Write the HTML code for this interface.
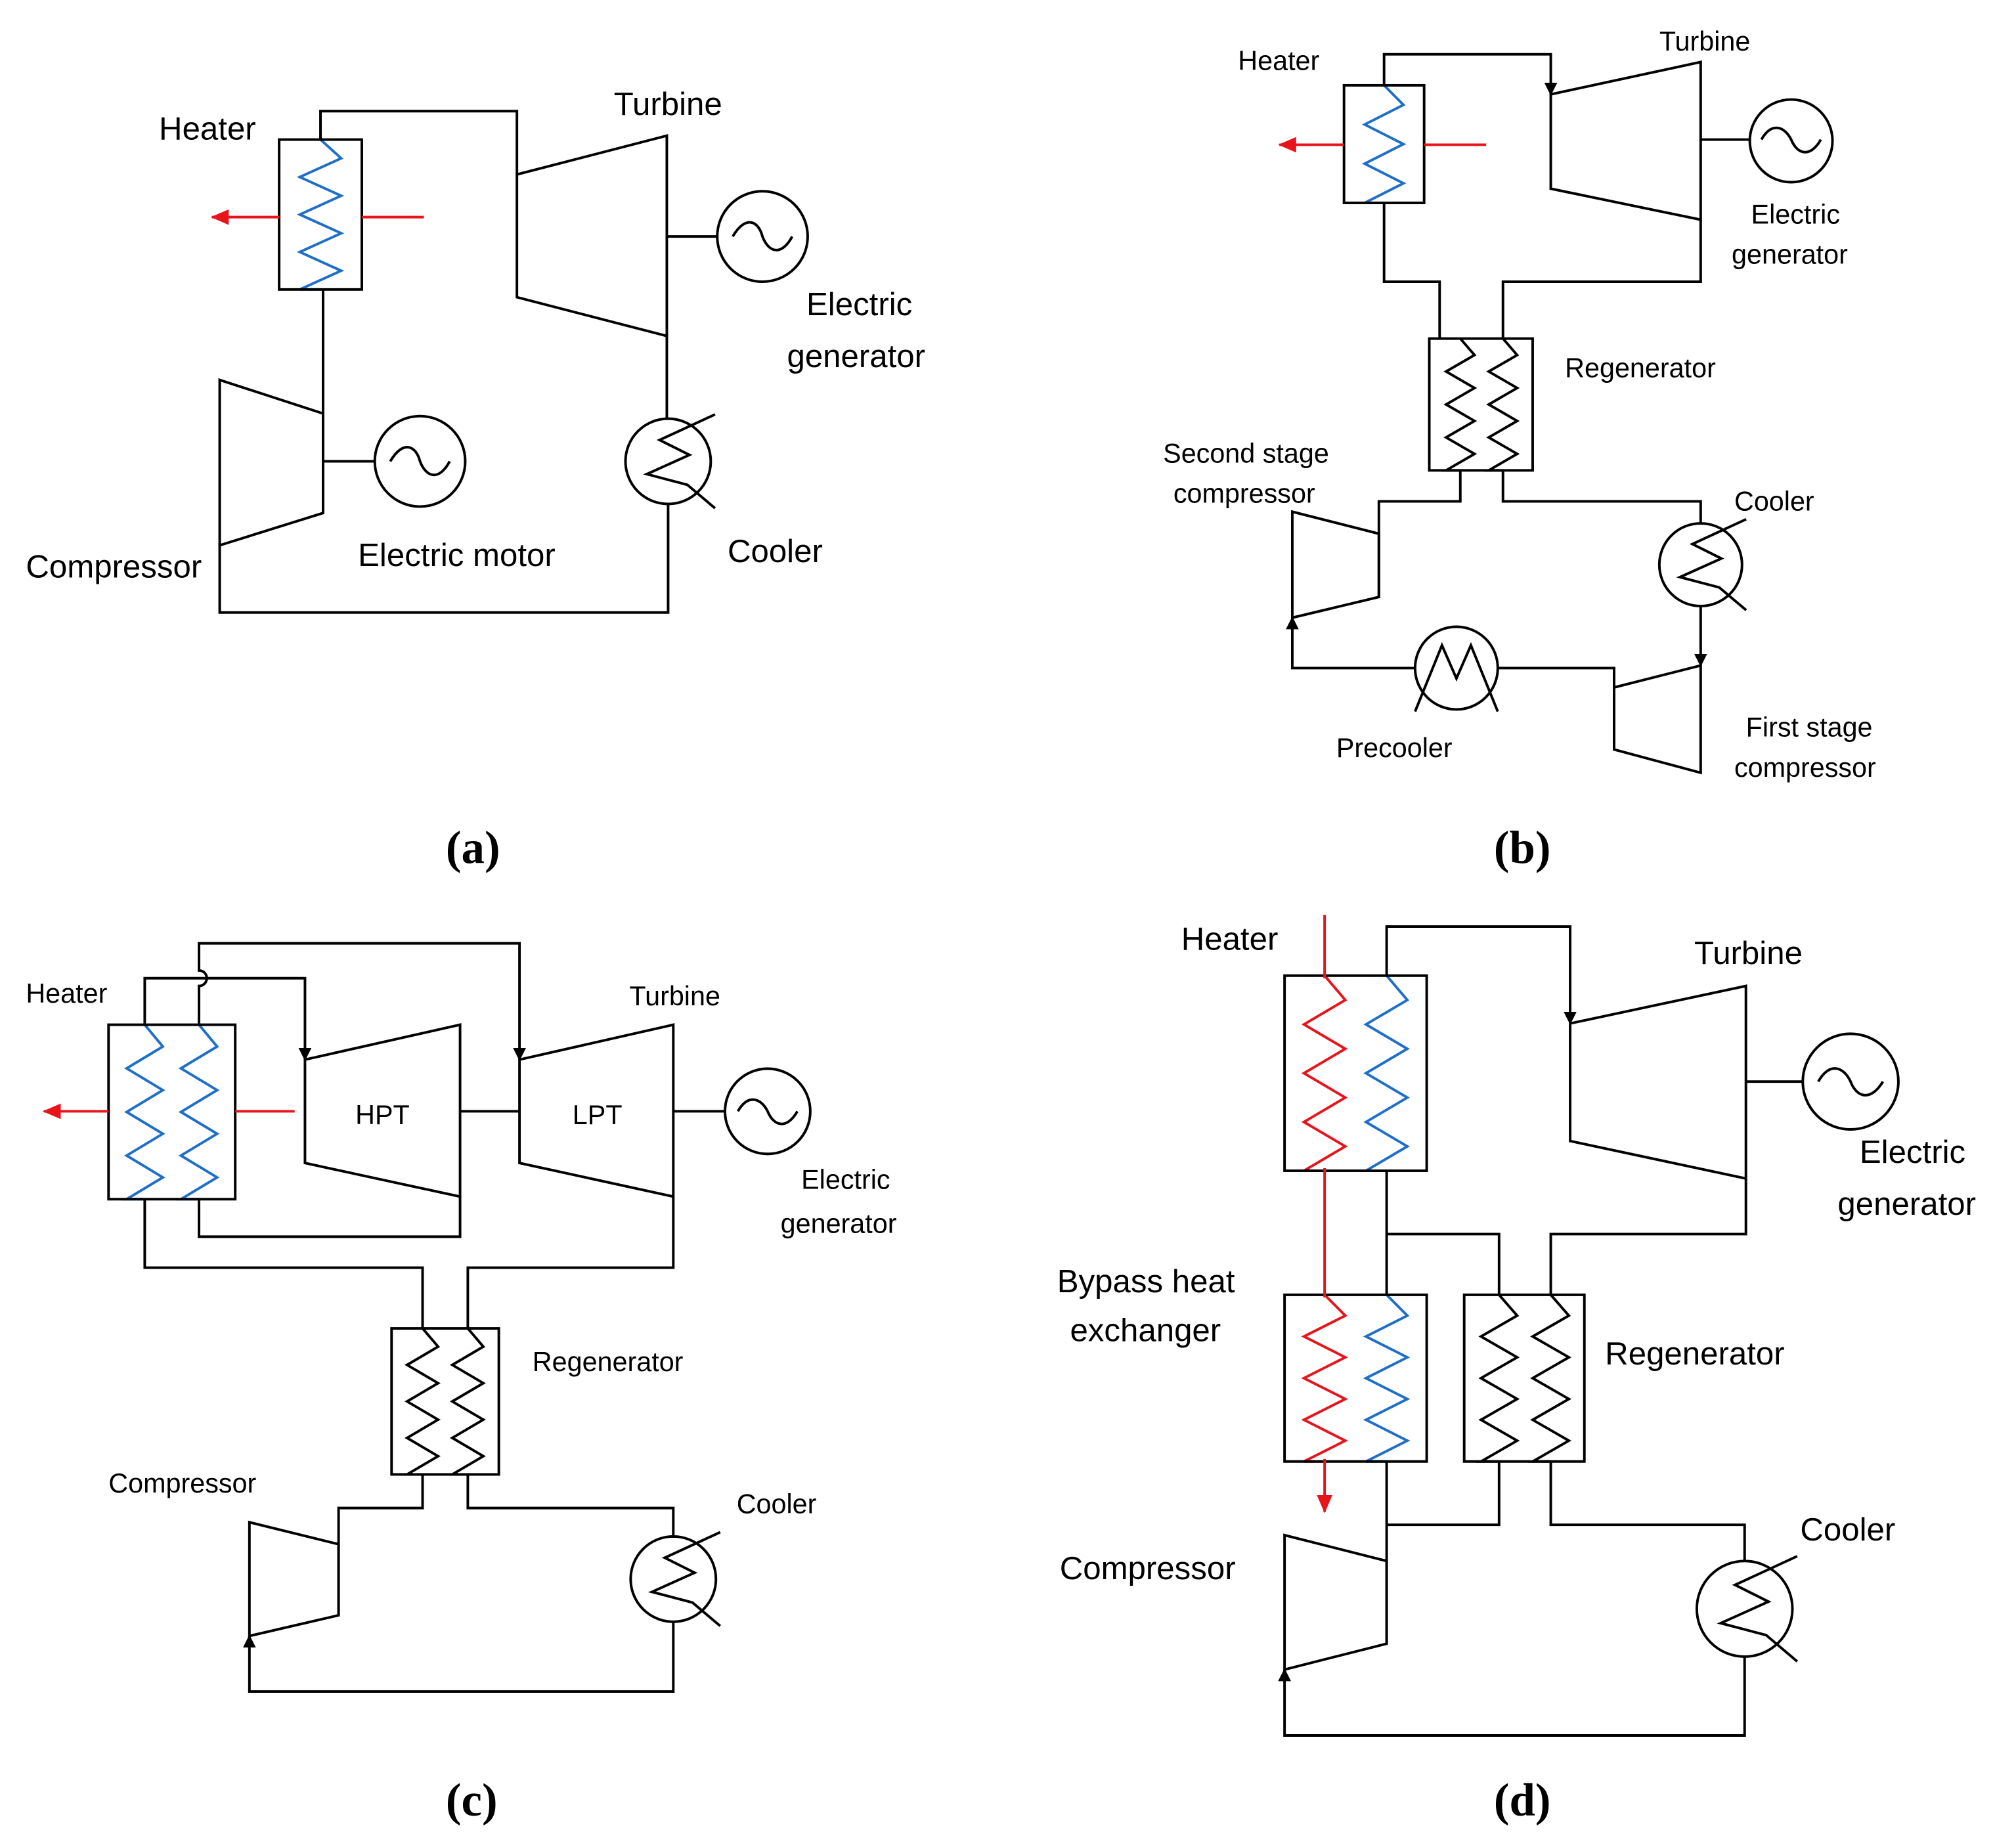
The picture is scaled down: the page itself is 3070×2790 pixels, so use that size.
<!DOCTYPE html>
<html><head><meta charset="utf-8"><style>
html,body{margin:0;padding:0;background:#fff}
svg{display:block}
text{font-family:"Liberation Sans",sans-serif;fill:#000}
.l{fill:none;stroke:#000;stroke-width:2}
.b{fill:none;stroke:#1f6fc8;stroke-width:2}
.r{fill:none;stroke:#e8141b;stroke-width:2}
.cap{font-family:"Liberation Serif",serif;font-size:36px;font-weight:bold}
</style></head><body>
<svg id="s" width="3070" height="2790" viewBox="0 0 1560 1417.7" xmlns="http://www.w3.org/2000/svg">
<defs>
<marker id="ab" markerWidth="10" markerHeight="10" refX="9" refY="5" orient="auto" markerUnits="userSpaceOnUse"><path d="M0,0 L10,5 L0,10 z" fill="#000"/></marker>
<marker id="ar" markerWidth="14" markerHeight="12" refX="13" refY="6" orient="auto" markerUnits="userSpaceOnUse"><path d="M0,0 L14,6 L0,12 z" fill="#e8141b"/></marker>
</defs>
<g id="g"></g>
<!-- (a) -->
<rect class="l" x="216" y="108" width="64" height="116"/>
<path class="r" d="M280,168 H328"/>
<path class="r" d="M216,168 H164" marker-end="url(#ar)"/>
<path class="l" d="M248,108 V86 H400 V135"/>
<polygon class="l" points="400,135 516,105 516,260 400,230"/>
<circle class="l" cx="590" cy="183" r="35"/><path class="l" d="M516,183 H555"/>
<path class="l" d="M516,260 V324"/>
<circle class="l" cx="517" cy="357" r="33"/>
<path class="l" d="M517,390 V474 H170 V420"/>
<polygon class="l" points="170,294 250,320 250,397 170,422"/>
<path class="l" d="M250,224 V320 M250,357 H290"/>
<circle class="l" cx="325" cy="357" r="35"/>
<text x="123" y="108" font-size="25">Heater</text>
<text x="475" y="89" font-size="25">Turbine</text>
<text x="624" y="244" font-size="25">Electric</text>
<text x="609" y="284" font-size="25">generator</text>
<text x="20" y="447" font-size="25">Compressor</text>
<text x="277" y="438" font-size="25">Electric motor</text>
<text x="563" y="435" font-size="25">Cooler</text>
<text class="cap" x="345" y="668">(a)</text>
<!-- (b) -->
<rect class="l" x="1040" y="66" width="62" height="91"/>
<path class="r" d="M1102,112 H1150"/>
<path class="r" d="M1040,112 H990" marker-end="url(#ar)"/>
<path class="l" d="M1071,66 V42 H1200 V73" marker-end="url(#ab)"/>
<polygon class="l" points="1200,73 1316,48 1316,170 1200,146"/>
<circle class="l" cx="1386" cy="109" r="32"/><path class="l" d="M1316,108 H1354"/>
<path class="l" d="M1071,157 V218 H1114 V262 M1316,170 V218 H1163 V262"/>
<rect class="l" x="1106" y="262" width="80" height="102"/>
<path class="l" d="M1130,364 V388 H1067 V462 M1163,364 V388 H1316 V405"/>
<polygon class="l" points="1000,396 1067,413 1067,462 1000,478"/>
<circle class="l" cx="1316" cy="437" r="32"/>
<path class="l" d="M1316,469 V515" marker-end="url(#ab)"/>
<polygon class="l" points="1249,532 1316,515 1316,598 1249,580"/>
<path class="l" d="M1249,532 V517 H1159 M1095,517 H1000 V478" marker-end="url(#ab)"/>
<circle class="l" cx="1127" cy="517" r="32"/>
<text x="958" y="54" font-size="21">Heater</text>
<text x="1284" y="39" font-size="21">Turbine</text>
<text x="1355" y="173" font-size="21">Electric</text>
<text x="1340" y="204" font-size="21">generator</text>
<text x="1211" y="292" font-size="21">Regenerator</text>
<text x="900" y="358" font-size="21">Second stage</text>
<text x="908" y="389" font-size="21">compressor</text>
<text x="1342" y="395" font-size="21">Cooler</text>
<text x="1034" y="586" font-size="21">Precooler</text>
<text x="1351" y="570" font-size="21">First stage</text>
<text x="1342" y="601" font-size="21">compressor</text>
<text class="cap" x="1156" y="668">(b)</text>
<!-- (c) -->
<rect class="l" x="84" y="793" width="98" height="135"/>
<path class="r" d="M182,860 H228"/>
<path class="r" d="M84,860 H34" marker-end="url(#ar)"/>
<path class="l" d="M112,793 V757 H236 V820" marker-end="url(#ab)"/>
<path class="l" d="M154,793 V763 A6,6 0 0 0 154,751 V730 H402 V820" marker-end="url(#ab)"/>
<polygon class="l" points="236,820 356,793 356,926 236,900"/>
<polygon class="l" points="402,820 521,793 521,926 402,900"/>
<path class="l" d="M356,860 H402 M521,860 H561"/>
<circle class="l" cx="594" cy="860" r="33"/>
<path class="l" d="M356,926 V957 H154 V928 M112,928 V981 H327 V1028 M521,926 V981 H362 V1028"/>
<rect class="l" x="303" y="1028" width="83" height="113"/>
<path class="l" d="M327,1141 V1167 H262 V1250 M362,1141 V1167 H521 V1190"/>
<polygon class="l" points="193,1178 262,1195 262,1250 193,1266"/>
<circle class="l" cx="521" cy="1222" r="33"/>
<path class="l" d="M521,1255 V1309 H193 V1266" marker-end="url(#ab)"/>
<text x="20" y="776" font-size="21">Heater</text>
<text x="487" y="778" font-size="21">Turbine</text>
<text x="275" y="870" font-size="21">HPT</text>
<text x="443" y="870" font-size="21">LPT</text>
<text x="620" y="920" font-size="21">Electric</text>
<text x="604" y="954" font-size="21">generator</text>
<text x="412" y="1061" font-size="21">Regenerator</text>
<text x="84" y="1155" font-size="21">Compressor</text>
<text x="570" y="1171" font-size="21">Cooler</text>
<text class="cap" x="345" y="1405">(c)</text>
<!-- (d) -->
<rect class="l" x="994" y="755" width="110" height="151"/>
<rect class="l" x="994" y="1002" width="110" height="129"/>
<rect class="l" x="1133" y="1002" width="93" height="129"/>
<path class="r" d="M1025,708 V757 M1025,904 V1004 M1025,1129 V1170" marker-end="url(#ar)"/>
<path class="l" d="M1073,755 V717 H1215 V792" marker-end="url(#ab)"/>
<polygon class="l" points="1215,792 1351,763 1351,912 1215,883"/>
<circle class="l" cx="1432" cy="837" r="37"/><path class="l" d="M1351,837 H1395"/>
<path class="l" d="M1073,906 V1002 M1073,955 H1160 V1002 M1351,912 V955 H1200 V1002"/>
<path class="l" d="M1073,1131 V1272 M1160,1131 V1180 H1073 M1200,1131 V1180 H1350 V1208"/>
<polygon class="l" points="994,1188 1073,1208 1073,1272 994,1292"/>
<circle class="l" cx="1350" cy="1245" r="37"/>
<path class="l" d="M1350,1282 V1343 H994 V1292" marker-end="url(#ab)"/>
<text x="914" y="735" font-size="25">Heater</text>
<text x="1311" y="746" font-size="25">Turbine</text>
<text x="1439" y="900" font-size="25">Electric</text>
<text x="1422" y="940" font-size="25">generator</text>
<text x="818" y="1000" font-size="25">Bypass heat</text>
<text x="828" y="1038" font-size="25">exchanger</text>
<text x="1242" y="1056" font-size="25">Regenerator</text>
<text x="820" y="1222" font-size="25">Compressor</text>
<text x="1393" y="1192" font-size="25">Cooler</text>
<text class="cap" x="1156" y="1405">(d)</text>
</svg>
<script>
var g=document.getElementById('g'),NS='http://www.w3.org/2000/svg';
function add(cls,d){var p=document.createElementNS(NS,'path');p.setAttribute('class',cls);p.setAttribute('d',d);g.appendChild(p);}
function zz(cls,cx,y0,y1,a,n){var h=(y1-y0)/(2*n),d='M'+cx+','+y0+' L'+(cx+a)+','+(y0+h);var y=y0+h,s=-1;for(var i=0;i<2*n-1;i++){y+=h;d+=' L'+(cx+s*a)+','+y;s=-s;}d+=' L'+cx+','+y1;add(cls,d);}
function cool(cx,cy,r){var P=[[1.1,-1.1],[-0.2,-0.5],[0.5,-0.15],[-0.5,0.3],[0.45,0.55],[1.1,1.1]];add('l','M'+P.map(function(p){return (cx+p[0]*r)+','+(cy+p[1]*r)}).join(' L'));}
zz('b',248,108,224,16,4);
cool(517,357,33);
add('l','M302,357 C312,340 322,345 325,357 C330,370 340,372 348,357');
add('l','M567,183 C577,166 587,171 590,183 C595,196 605,198 613,183');
zz('b',1071,66,157,15,3);
zz('l',1130,262,364,11,4);zz('l',1163,262,364,11,4);
cool(1316,437,32);
add('l','M1363,108 C1371,94 1381,98 1386,108 C1391,120 1401,122 1409,108');
var c=1127,y=517,r=32;add('l','M'+(c-r)+','+(y+1.05*r)+' L'+(c-0.35*r)+','+(y-0.55*r)+' L'+c+','+(y+0.25*r)+' L'+(c+0.35*r)+','+(y-0.55*r)+' L'+(c+r)+','+(y+1.05*r));
zz('b',112,793,928,14,4);zz('b',154,793,928,14,4);
zz('l',327,1028,1141,12,4);zz('l',362,1028,1141,12,4);
cool(521,1222,33);
add('l','M571,860 C579,846 589,850 594,860 C599,872 609,874 617,860');
zz('r',1025,755,906,16,4);zz('b',1073,755,906,16,4);
zz('r',1025,1002,1131,16,4);zz('b',1073,1002,1131,16,4);
zz('l',1160,1002,1131,14,4);zz('l',1200,1002,1131,14,4);
cool(1350,1245,37);
add('l','M1407,837 C1416,821 1427,826 1432,837 C1437,850 1448,852 1457,837');
</script>
</body></html>
